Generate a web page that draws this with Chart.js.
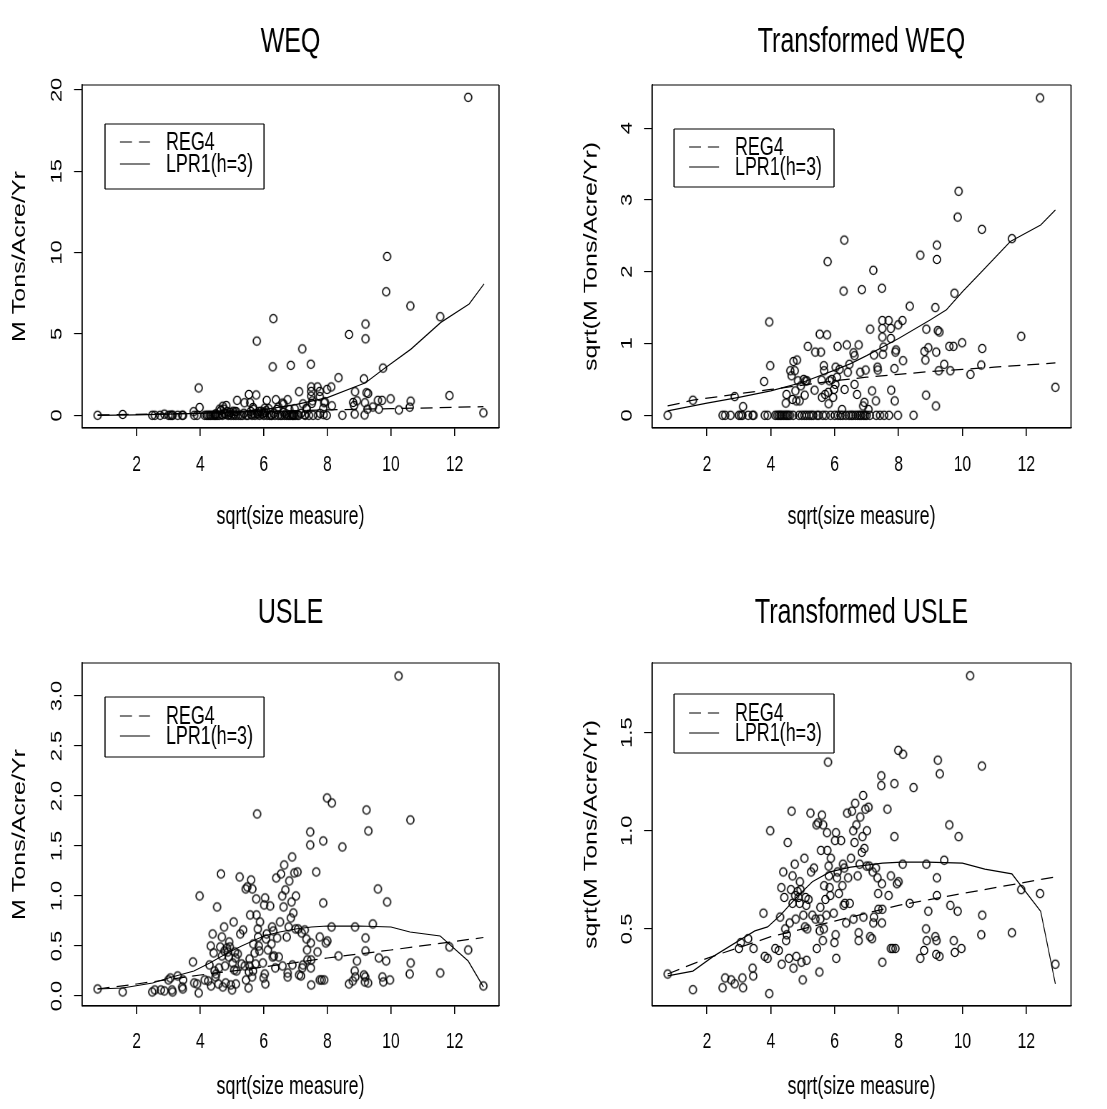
<!DOCTYPE html>
<html>
<head>
<meta charset="utf-8">
<title>WEQ / USLE</title>
<script src="https://cdn.jsdelivr.net/npm/chart.js@4.4.1/dist/chart.umd.min.js"></script>
<style>
    html, body { margin: 0; padding: 0; background: #fff; }
    #lamina { position: relative; width: 1107px; height: 1109px; overflow: hidden; background: #fff; }
    #lamina canvas { position: absolute; transform-origin: 0 0; }
</style>
</head>
<body>
<div id="lamina"></div>
<script>
// =====================================================================
//  Datos (sqrt(size measure) en x)
// =====================================================================

const xTicks = [2, 4, 6, 8, 10, 12];

// --- WEQ: mismos sitios para el panel bruto y el transformado
const xWeq = [
    0.77, 1.56, 2.49, 2.57, 2.74, 2.87, 3.00, 3.06, 3.11, 3.13,
    3.29, 3.43, 3.46, 3.79, 3.81, 3.90, 3.95, 3.98, 4.14, 4.20,
    4.25, 4.30, 4.34, 4.40, 4.45, 4.47, 4.49, 4.50, 4.55, 4.60,
    4.61, 4.65, 4.68, 4.70, 4.71, 4.75, 4.77, 4.80, 4.82, 4.85,
    4.88, 4.90, 4.94, 4.97, 5.03, 5.05, 5.06, 5.09, 5.12, 5.13,
    5.16, 5.20, 5.27, 5.33, 5.37, 5.39, 5.45, 5.50, 5.53, 5.57,
    5.59, 5.60, 5.63, 5.66, 5.67, 5.70, 5.72, 5.76, 5.78, 5.80,
    5.81, 5.84, 5.87, 5.91, 5.95, 5.98, 6.00, 6.02, 6.03, 6.07,
    6.09, 6.10, 6.15, 6.18, 6.23, 6.25, 6.28, 6.30, 6.31, 6.35,
    6.38, 6.41, 6.45, 6.46, 6.52, 6.57, 6.59, 6.62, 6.62, 6.65,
    6.70, 6.72, 6.75, 6.78, 6.80, 6.83, 6.85, 6.89, 6.90, 6.93,
    6.95, 6.97, 7.00, 7.06, 7.10, 7.11, 7.17, 7.21, 7.23, 7.29,
    7.30, 7.34, 7.35, 7.42, 7.48, 7.49, 7.49, 7.49, 7.51, 7.53,
    7.55, 7.69, 7.70, 7.76, 7.76, 7.77, 7.87, 7.88, 7.90, 7.92,
    7.98, 7.99, 8.12, 8.14, 8.35, 8.47, 8.68, 8.81, 8.84, 8.86,
    8.87, 8.93, 9.15, 9.17, 9.18, 9.20, 9.20, 9.23, 9.26, 9.28,
    9.43, 9.59, 9.62, 9.72, 9.75, 9.85, 9.88, 9.99, 10.25, 10.59,
    10.61, 10.62, 11.55, 11.84, 12.43, 12.91,
];
const yWeq = [
    0, 0.05, 0, 0, 0, 0.07, 0, 0, 0, 0.01,
    0, 0, 0, 0.22, 0, 0, 1.68, 0.48, 0, 0,
    0, 0, 0, 0, 0, 0.03, 0.09, 0, 0, 0,
    0.38, 0.30, 0.05, 0, 0.56, 0.38, 0.12, 0.04, 0.60, 0.23,
    0, 0.04, 0.17, 0, 0.25, 0, 0.08, 0.23, 0, 0.23,
    0.92, 0, 0, 0, 0.13, 0.77, 0, 0, 1.28, 0.77,
    0.24, 0.06, 0, 0.48, 0.38, 0.09, 0, 1.25, 4.56, 0.10,
    0.03, 0.23, 0, 0.25, 0.06, 0.13, 0, 0.19, 0.44, 0.28,
    0.92, 0, 0.41, 0, 0.01, 0, 2.98, 5.94, 0.13, 0,
    0.96, 0.36, 0, 0.51, 0, 0, 0.75, 0.69, 0.19, 0,
    0.09, 0, 0.96, 0, 0.36, 0, 3.07, 0.02, 0, 0.03,
    0, 0.40, 0, 0.01, 0, 1.45, 0.12, 4.08, 0.70, 0.04,
    0, 0.44, 0.40, 0, 3.14, 1.74, 1.47, 1.18, 0.73, 0.89,
    0, 1.74, 0, 1.47, 1.15, 0.12, 0.43, 0.04, 0.77, 0.83,
    0, 1.59, 1.74, 0.58, 2.31, 0, 4.97, 0.79, 0.60, 0.08,
    1.45, 0.89, 2.24, 0.02, 0.77, 5.61, 4.70, 1.39, 0.38, 1.34,
    0.51, 0.92, 0.38, 0.92, 2.90, 7.59, 9.76, 1.01, 0.33, 0.50,
    6.72, 0.87, 6.06, 1.21, 19.54, 0.15,
];
const yWeqSqrt = [
    0, 0.21, 0, 0, 0, 0.26, 0, 0, 0, 0.12,
    0, 0, 0, 0.47, 0, 0, 1.30, 0.69, 0, 0,
    0, 0, 0, 0, 0, 0.17, 0.29, 0, 0, 0,
    0.62, 0.55, 0.22, 0, 0.75, 0.62, 0.34, 0.20, 0.77, 0.48,
    0, 0.20, 0.41, 0, 0.50, 0, 0.28, 0.48, 0, 0.48,
    0.96, 0, 0, 0, 0.35, 0.88, 0, 0, 1.13, 0.88,
    0.49, 0.25, 0, 0.69, 0.62, 0.29, 0, 1.12, 2.14, 0.32,
    0.16, 0.48, 0, 0.50, 0.25, 0.36, 0, 0.43, 0.67, 0.53,
    0.96, 0, 0.64, 0, 0.08, 0, 1.73, 2.44, 0.36, 0,
    0.98, 0.60, 0, 0.71, 0, 0, 0.87, 0.83, 0.43, 0,
    0.29, 0, 0.98, 0, 0.60, 0, 1.75, 0.13, 0, 0.18,
    0, 0.63, 0, 0.08, 0, 1.20, 0.34, 2.02, 0.84, 0.20,
    0, 0.67, 0.63, 0, 1.77, 1.32, 1.21, 1.09, 0.85, 0.95,
    0, 1.32, 0, 1.21, 1.07, 0.35, 0.65, 0.20, 0.88, 0.91,
    0, 1.26, 1.32, 0.76, 1.52, 0, 2.23, 0.89, 0.77, 0.28,
    1.20, 0.94, 1.50, 0.13, 0.88, 2.37, 2.17, 1.18, 0.62, 1.16,
    0.71, 0.96, 0.62, 0.96, 1.70, 2.76, 3.12, 1.01, 0.57, 0.70,
    2.59, 0.93, 2.46, 1.10, 4.42, 0.39,
];

// --- USLE
const xUsle = [
    0.77, 1.56, 2.49, 2.57, 2.76, 2.87, 3.00, 3.06, 3.11, 3.13,
    3.29, 3.43, 3.45, 3.46, 3.77, 3.81, 3.90, 3.95, 3.98, 4.14,
    4.25, 4.29, 4.33, 4.34, 4.39, 4.42, 4.45, 4.48, 4.50, 4.53,
    4.57, 4.59, 4.63, 4.65, 4.68, 4.68, 4.71, 4.75, 4.76, 4.78,
    4.80, 4.84, 4.87, 4.90, 4.91, 4.93, 4.96, 5.00, 5.02, 5.05,
    5.07, 5.09, 5.11, 5.12, 5.14, 5.18, 5.24, 5.26, 5.30, 5.35,
    5.40, 5.43, 5.44, 5.48, 5.52, 5.53, 5.55, 5.55, 5.57, 5.60,
    5.63, 5.64, 5.66, 5.67, 5.71, 5.74, 5.76, 5.77, 5.79, 5.81,
    5.82, 5.84, 5.86, 5.88, 5.97, 5.99, 6.01, 6.03, 6.04, 6.05,
    6.07, 6.09, 6.13, 6.20, 6.24, 6.26, 6.28, 6.30, 6.32, 6.36,
    6.39, 6.42, 6.47, 6.51, 6.54, 6.58, 6.59, 6.62, 6.64, 6.68,
    6.72, 6.75, 6.75, 6.78, 6.80, 6.85, 6.87, 6.89, 6.90, 6.93,
    6.96, 7.00, 7.01, 7.06, 7.08, 7.11, 7.17, 7.19, 7.21, 7.23,
    7.29, 7.34, 7.36, 7.37, 7.46, 7.46, 7.48, 7.48, 7.49, 7.49,
    7.65, 7.69, 7.76, 7.76, 7.82, 7.87, 7.87, 7.90, 7.95, 7.99,
    8.00, 8.14, 8.13, 8.35, 8.47, 8.68, 8.80, 8.86, 8.87, 8.88,
    8.93, 9.15, 9.18, 9.19, 9.20, 9.20, 9.23, 9.28, 9.29, 9.43,
    9.59, 9.62, 9.73, 9.76, 9.85, 9.88, 9.97, 10.24, 10.59, 10.61,
    10.62, 11.55, 11.84, 12.43, 12.91,
];
const yUsle = [
    0.07, 0.04, 0.04, 0.06, 0.06, 0.05, 0.16, 0.18, 0.06, 0.04,
    0.20, 0.09, 0.07, 0.16, 0.34, 0.13, 0.12, 0.03, 1.00, 0.16,
    0.15, 0.31, 0.50, 0.10, 0.62, 0.43, 0.25, 0.19, 0.22, 0.89,
    0.12, 0.28, 0.49, 1.22, 0.59, 0.40, 0.09, 0.69, 0.45, 0.30,
    0.13, 0.48, 0.44, 0.39, 0.54, 0.49, 0.11, 0.06, 0.33, 0.74,
    0.26, 0.44, 0.38, 0.12, 0.25, 0.42, 1.19, 0.62, 0.32, 0.66,
    0.30, 1.07, 0.16, 1.09, 0.08, 0.24, 0.30, 0.37, 0.81, 1.16,
    0.19, 1.07, 0.25, 0.52, 0.43, 0.32, 0.97, 0.81, 1.82, 0.67,
    0.59, 0.50, 0.45, 0.74, 0.33, 0.18, 0.91, 0.22, 0.98, 0.12,
    0.57, 0.62, 0.46, 0.90, 0.52, 0.69, 0.39, 0.65, 0.40, 0.28,
    1.18, 0.58, 0.39, 0.74, 1.22, 1.00, 0.30, 0.89, 1.31, 1.06,
    0.59, 0.19, 0.23, 0.69, 1.15, 0.78, 0.94, 1.39, 0.31, 0.83,
    1.23, 0.67, 1.00, 1.24, 0.67, 0.21, 0.20, 0.63, 0.28, 0.31,
    0.66, 0.57, 0.46, 0.36, 1.64, 1.51, 0.53, 0.28, 0.36, 0.11,
    1.24, 0.44, 0.59, 0.16, 0.16, 1.55, 0.93, 0.16, 0.53, 1.98,
    0.55, 1.93, 0.69, 0.40, 1.49, 0.12, 0.15, 0.25, 0.69, 0.19,
    0.35, 0.21, 0.14, 0.19, 0.58, 0.45, 1.86, 0.13, 1.65, 0.72,
    1.07, 0.38, 0.19, 0.14, 0.35, 0.94, 0.16, 3.20, 0.22, 1.76,
    0.33, 0.23, 0.49, 0.46, 0.10,
];
const yUsleSqrt = [
    0.27, 0.19, 0.20, 0.25, 0.24, 0.22, 0.40, 0.43, 0.25, 0.20,
    0.45, 0.30, 0.26, 0.40, 0.58, 0.36, 0.35, 0.17, 1.00, 0.40,
    0.39, 0.56, 0.71, 0.32, 0.79, 0.66, 0.50, 0.44, 0.47, 0.94,
    0.35, 0.53, 0.70, 1.10, 0.77, 0.63, 0.30, 0.83, 0.67, 0.55,
    0.36, 0.69, 0.66, 0.63, 0.74, 0.70, 0.33, 0.24, 0.57, 0.86,
    0.51, 0.66, 0.62, 0.34, 0.50, 0.65, 1.09, 0.79, 0.57, 0.81,
    0.55, 1.03, 0.40, 1.04, 0.28, 0.49, 0.55, 0.61, 0.90, 1.08,
    0.44, 1.03, 0.50, 0.72, 0.65, 0.57, 0.99, 0.90, 1.35, 0.82,
    0.77, 0.71, 0.67, 0.86, 0.58, 0.43, 0.95, 0.47, 0.99, 0.35,
    0.76, 0.79, 0.68, 0.95, 0.72, 0.83, 0.62, 0.81, 0.63, 0.53,
    1.09, 0.76, 0.63, 0.86, 1.10, 1.00, 0.55, 0.94, 1.14, 1.03,
    0.77, 0.44, 0.48, 0.83, 1.07, 0.89, 0.97, 1.18, 0.56, 0.91,
    1.11, 0.82, 1.00, 1.12, 0.82, 0.46, 0.45, 0.79, 0.53, 0.56,
    0.81, 0.76, 0.68, 0.60, 1.28, 1.23, 0.73, 0.53, 0.60, 0.33,
    1.11, 0.67, 0.77, 0.40, 0.40, 1.24, 0.97, 0.40, 0.73, 1.41,
    0.74, 1.39, 0.83, 0.63, 1.22, 0.35, 0.39, 0.50, 0.83, 0.44,
    0.59, 0.46, 0.37, 0.44, 0.76, 0.67, 1.36, 0.36, 1.29, 0.85,
    1.03, 0.62, 0.44, 0.38, 0.59, 0.97, 0.40, 1.79, 0.47, 1.33,
    0.57, 0.48, 0.70, 0.68, 0.32,
];

// --- Curvas ajustadas (REG4 discontinua, LPR1 continua)
const weqRegX  = [0.77, 4, 6, 8, 10, 12.91];
const weqRegY  = [0.02, 0.13, 0.23, 0.33, 0.41, 0.53];
const weqLprX  = [0.77, 2, 4, 5, 6, 6.5, 7, 8, 9.2, 9.77, 10.63, 11.57, 12.46, 12.93];
const weqLprY  = [0, 0.03, 0.12, 0.2, 0.35, 0.5, 0.65, 1.09, 2.0, 2.85, 4.07, 5.71, 6.84, 8.08];

const tweqRegX = [0.77, 1.56, 3, 4, 5, 6, 7, 8, 9, 10, 11, 12, 12.91];
const tweqRegY = [0.13, 0.21, 0.3, 0.36, 0.42, 0.48, 0.53, 0.57, 0.61, 0.64, 0.67, 0.70, 0.73];
const tweqLprX = [0.77, 2, 3, 4, 5, 6, 6.5, 7, 8, 9, 9.5, 10, 10.6, 11.5, 12.45, 12.91];
const tweqLprY = [0.06, 0.17, 0.25, 0.34, 0.46, 0.63, 0.72, 0.83, 1.07, 1.33, 1.47, 1.72, 2.0, 2.42, 2.65, 2.86];

const usleRegX  = [0.77, 2, 4, 6, 8, 10, 12.91];
const usleRegY  = [0.07, 0.12, 0.21, 0.29, 0.38, 0.46, 0.585];
const usleLprX  = [0.77, 1.56, 2.5, 3.0, 3.8, 4.3, 4.8, 5.3, 6.0, 6.5, 7.0, 7.5, 8.0, 9.0, 10.0, 10.6, 11.55, 12.43, 12.91];
const usleLprY  = [0.07, 0.08, 0.13, 0.18, 0.25, 0.33, 0.42, 0.5, 0.6, 0.64, 0.67, 0.69, 0.70, 0.70, 0.69, 0.64, 0.6, 0.35, 0.09];

const tusleRegX = [0.77, 2, 4, 6, 8, 10, 12.91];
const tusleRegY = [0.27, 0.35, 0.46, 0.54, 0.62, 0.68, 0.765];
const tusleLprX = [0.77, 1.56, 2.2, 3.0, 3.5, 3.9, 4.3, 4.8, 5.3, 5.85, 6.5, 7.0, 7.5, 8.1, 8.9, 10.0, 10.7, 11.55, 12.45, 12.91];
const tusleLprY = [0.26, 0.285, 0.36, 0.44, 0.49, 0.51, 0.57, 0.66, 0.74, 0.79, 0.815, 0.825, 0.835, 0.84, 0.84, 0.835, 0.805, 0.78, 0.59, 0.22];

// --- Ejes y (valores y etiquetas tal como aparecen)
const weqYTicks   = [0, 5, 10, 15, 20];
const weqYLabels  = ["0", "5", "10", "15", "20"];
const tweqYTicks  = [0, 1, 2, 3, 4];
const tweqYLabels = ["0", "1", "2", "3", "4"];
const usleYTicks  = [0, 0.5, 1, 1.5, 2, 2.5, 3];
const usleYLabels = ["0.0", "0.5", "1.0", "1.5", "2.0", "2.5", "3.0"];
const tusleYTicks  = [0.5, 1, 1.5];
const tusleYLabels = ["0.5", "1.0", "1.5"];

// =====================================================================
//  Estilo y maquetación (px de la página)
// =====================================================================

const SQ = 0.715;        // la figura original está comprimida en horizontal
const FAMILY = "'Liberation Sans', Arial, Helvetica, sans-serif";
const F_TITLE = 35, F_LAB = 25, F_TICK = 22, F_LEG = 25;
const TICK_LEN = 8;
const LW = 1.15;
const X_RANGE = [0.28, 13.4];
const DASH = [12 / SQ, 7 / SQ];

Chart.defaults.font.family = FAMILY;
Chart.defaults.color = "#000";

const lamina = document.getElementById("lamina");
const medidor = document.createElement("canvas").getContext("2d");

function anchoMax(labels) {
    medidor.font = `${F_TICK}px ${FAMILY}`;
    return Math.max(...labels.map((t) => medidor.measureText(t).width));
}

// Círculo abierto que, tras la compresión horizontal, queda casi redondo
function crearMarcador() {
    const rx = 3.6, ry = 4.1;
    const c = document.createElement("canvas");
    c.width = Math.ceil((2 * rx + 4) / SQ);
    c.height = Math.ceil(2 * ry + 4);
    const g = c.getContext("2d");
    g.translate(c.width / 2, c.height / 2);
    g.scale(1 / SQ, 1);
    g.beginPath();
    g.ellipse(0, 0, rx, ry, 0, 0, 2 * Math.PI);
    g.lineWidth = 1.2;
    g.strokeStyle = "#000";
    g.stroke();
    return c;
}
const MARCADOR = crearMarcador();

const pares = (xs, ys) => xs.map((x, i) => ({ x, y: ys[i] }));

// Rectángulo con trazo homogéneo (los lados verticales se compensan)
function rect(ctx, x, y, w, h) {
    ctx.beginPath();
    ctx.lineWidth = LW;
    ctx.moveTo(x, y); ctx.lineTo(x + w, y);
    ctx.moveTo(x, y + h); ctx.lineTo(x + w, y + h);
    ctx.stroke();
    ctx.beginPath();
    ctx.lineWidth = LW / SQ;
    ctx.moveTo(x, y); ctx.lineTo(x, y + h);
    ctx.moveTo(x + w, y); ctx.lineTo(x + w, y + h);
    ctx.stroke();
}

const marco = {
    id: "marco",
    afterDatasetsDraw(chart) {
        const { ctx, chartArea: a } = chart;
        ctx.save();
        ctx.strokeStyle = "#000";
        rect(ctx, a.left, a.top, a.right - a.left, a.bottom - a.top);
        ctx.restore();
    },
};

// Leyenda enmarcada dentro del área, a partir de los datasets con línea
const cajaLeyenda = {
    id: "cajaLeyenda",
    afterDraw(chart, args, o) {
        const { ctx, chartArea: a } = chart;
        const x0 = a.left + o.dx / SQ, y0 = a.top + o.dy;
        const items = chart.data.datasets.filter((d) => d.showLine);
        ctx.save();
        ctx.fillStyle = "#fff";
        ctx.fillRect(x0, y0, o.w / SQ, o.h);
        ctx.strokeStyle = "#000";
        rect(ctx, x0, y0, o.w / SQ, o.h);
        ctx.font = `${F_LEG}px ${FAMILY}`;
        ctx.textAlign = "left";
        ctx.textBaseline = "middle";
        items.forEach((d, i) => {
            const y = y0 + o.rows[i];
            ctx.beginPath();
            ctx.lineWidth = LW;
            ctx.setLineDash(d.borderDash || []);
            ctx.moveTo(x0 + 15 / SQ, y);
            ctx.lineTo(x0 + 45 / SQ, y);
            ctx.stroke();
            ctx.setLineDash([]);
            ctx.fillStyle = "#000";
            ctx.fillText(d.label, x0 + 61 / SQ, y + 1);
        });
        ctx.restore();
    },
};

const paneles = [
    {
        titulo: "WEQ", yTitulo: "M Tons/Acre/Yr",
        puntos: pares(xWeq, yWeq), reg: pares(weqRegX, weqRegY), lpr: pares(weqLprX, weqLprY),
        yRange: [-0.78, 20.3], yTicks: weqYTicks, yLabels: weqYLabels,
        frame: { x: 0, y: 0, w: 553, h: 554 }, area: { l: 82, r: 499, t: 85, b: 428 },
        titleY: 42, xTickY: 465, xTitleY: 517, yTickX: 57, yTitleX: 20,
        leyenda: { dx: 23, dy: 39, w: 159, h: 65, rows: [18, 40] },
    },
    {
        titulo: "Transformed WEQ", yTitulo: "sqrt(M Tons/Acre/Yr)",
        puntos: pares(xWeq, yWeqSqrt), reg: pares(tweqRegX, tweqRegY), lpr: pares(tweqLprX, tweqLprY),
        yRange: [-0.177, 4.6], yTicks: tweqYTicks, yLabels: tweqYLabels,
        frame: { x: 553, y: 0, w: 554, h: 554 }, area: { l: 652, r: 1071, t: 85, b: 428 },
        titleY: 42, xTickY: 465, xTitleY: 517, yTickX: 627, yTitleX: 592,
        leyenda: { dx: 22, dy: 44, w: 160, h: 58, rows: [18, 38] },
    },
    {
        titulo: "USLE", yTitulo: "M Tons/Acre/Yr",
        puntos: pares(xUsle, yUsle), reg: pares(usleRegX, usleRegY), lpr: pares(usleLprX, usleLprY),
        yRange: [-0.1, 3.33], yTicks: usleYTicks, yLabels: usleYLabels,
        frame: { x: 0, y: 554, w: 553, h: 555 }, area: { l: 82, r: 499, t: 663, b: 1006 },
        titleY: 613, xTickY: 1042, xTitleY: 1087, yTickX: 57, yTitleX: 20,
        leyenda: { dx: 23, dy: 34, w: 159, h: 60, rows: [19, 39] },
    },
    {
        titulo: "Transformed USLE", yTitulo: "sqrt(M Tons/Acre/Yr)",
        puntos: pares(xUsle, yUsleSqrt), reg: pares(tusleRegX, tusleRegY), lpr: pares(tusleLprX, tusleLprY),
        yRange: [0.107, 1.855], yTicks: tusleYTicks, yLabels: tusleYLabels,
        frame: { x: 553, y: 554, w: 554, h: 555 }, area: { l: 652, r: 1071, t: 663, b: 1006 },
        titleY: 613, xTickY: 1042, xTitleY: 1087, yTickX: 627, yTitleX: 592,
        leyenda: { dx: 22, dy: 31, w: 160, h: 59, rows: [19, 39] },
    },
];

function pintarPanel(p) {
    const cw = Math.round(p.frame.w / SQ);
    const cv = document.createElement("canvas");
    cv.width = cw;
    cv.height = p.frame.h;
    cv.style.left = p.frame.x + "px";
    cv.style.top = p.frame.y + "px";
    cv.style.transform = `scaleX(${SQ})`;
    lamina.appendChild(cv);

    // página -> coordenadas del canvas
    const fx = (v) => (v - p.frame.x) / SQ;
    const fy = (v) => v - p.frame.y;
    const aL = fx(p.area.l), aR = fx(p.area.r);
    const aT = fy(p.area.t), aB = fy(p.area.b);
    const tituloC = fy(p.titleY), xTituloC = fy(p.xTitleY);
    const yTickLen = TICK_LEN / SQ;
    const yPad = aL - yTickLen - anchoMax(p.yLabels) / 2 - fx(p.yTickX);

    new Chart(cv.getContext("2d"), {
        type: "scatter",
        data: {
            datasets: [
                {
                    data: p.puntos,
                    showLine: false,
                    pointStyle: MARCADOR,
                    pointRadius: 4,
                },
                {
                    label: "REG4",
                    data: p.reg,
                    showLine: true,
                    borderColor: "#000",
                    borderWidth: 1.25,
                    borderDash: DASH,
                    pointRadius: 0,
                    tension: 0,
                },
                {
                    label: "LPR1(h=3)",
                    data: p.lpr,
                    showLine: true,
                    borderColor: "#000",
                    borderWidth: 1.25,
                    pointRadius: 0,
                    tension: 0,
                },
            ],
        },
        options: {
            responsive: false,
            animation: false,
            devicePixelRatio: 1,
            events: [],
            layout: {
                padding: { left: 0, top: 0, right: cw - aR, bottom: p.frame.h - (xTituloC + F_LAB / 2) },
            },
            plugins: {
                legend: { display: false },
                tooltip: { enabled: false },
                title: {
                    display: true,
                    text: p.titulo,
                    fullSize: false,
                    color: "#000",
                    font: { size: F_TITLE, weight: "normal", lineHeight: 1 },
                    padding: { top: tituloC - F_TITLE / 2, bottom: aT - tituloC - F_TITLE / 2 },
                },
                cajaLeyenda: p.leyenda,
            },
            scales: {
                x: {
                    type: "linear",
                    min: X_RANGE[0],
                    max: X_RANGE[1],
                    afterFit: (s) => { s.height = xTituloC + F_LAB / 2 - aB; },
                    afterBuildTicks: (s) => { s.ticks = xTicks.map((v) => ({ value: v })); },
                    ticks: {
                        autoSkip: false,
                        maxRotation: 0,
                        color: "#000",
                        font: { size: F_TICK, lineHeight: 1 },
                        padding: fy(p.xTickY) - aB - TICK_LEN - F_TICK / 2,
                    },
                    grid: { drawOnChartArea: false, drawTicks: true, tickLength: TICK_LEN, color: "#000", lineWidth: LW / SQ },
                    border: { display: true, color: "#000", width: LW },
                    title: {
                        display: true,
                        text: "sqrt(size measure)",
                        color: "#000",
                        font: { size: F_LAB, lineHeight: 1 },
                        padding: 0,
                    },
                },
                y: {
                    type: "linear",
                    min: p.yRange[0],
                    max: p.yRange[1],
                    afterFit: (s) => { s.width = aL; },
                    afterBuildTicks: (s) => { s.ticks = p.yTicks.map((v) => ({ value: v })); },
                    ticks: {
                        autoSkip: false,
                        minRotation: 90,
                        maxRotation: 90,
                        crossAlign: "center",
                        color: "#000",
                        font: { size: F_TICK, lineHeight: 1 },
                        padding: yPad,
                        callback: (v, i) => p.yLabels[i],
                    },
                    grid: { drawOnChartArea: false, drawTicks: true, tickLength: yTickLen, color: "#000", lineWidth: LW },
                    border: { display: true, color: "#000", width: LW / SQ },
                    title: {
                        display: true,
                        text: p.yTitulo,
                        color: "#000",
                        font: { size: F_LAB, lineHeight: 1 },
                        padding: { top: fx(p.yTitleX) - F_LAB / 2, bottom: 0 },
                    },
                },
            },
        },
        plugins: [marco, cajaLeyenda],
    });
}

paneles.forEach(pintarPanel);
</script>
</body>
</html>
